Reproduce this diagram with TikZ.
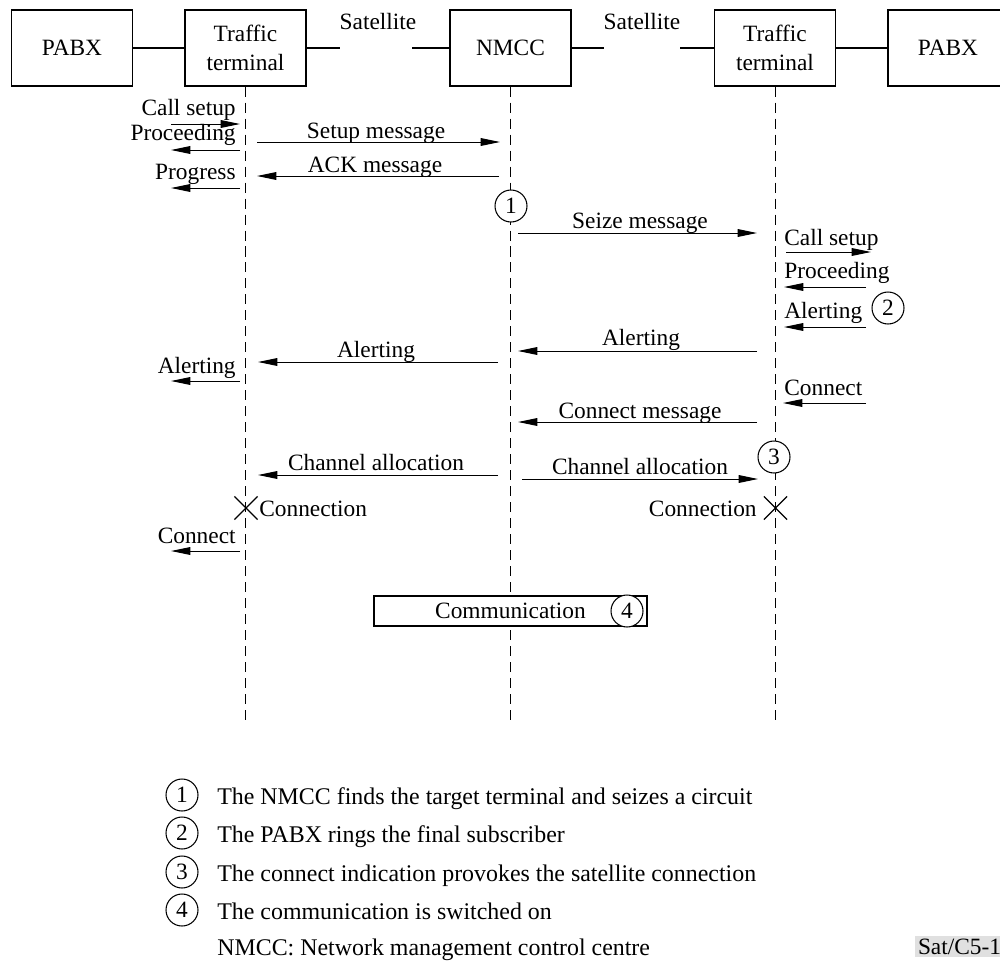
\documentclass[tikz,border=0pt]{standalone}
\usepackage{fontspec}
\setmainfont{Liberation Serif}
\usetikzlibrary{arrows.meta,shapes.misc}
\begin{document}
\begin{tikzpicture}[x=0.02cm,y=-0.02cm,
  every node/.style={font=\fontsize{13.3}{16.5}\selectfont},
  box/.style={draw,line width=0.7pt,minimum width=2.42cm,minimum height=1.52cm,align=center,inner sep=0pt},
  link/.style={line width=0.7pt},
  life/.style={line width=0.7pt,dash pattern=on 5.7pt off 3.4pt},
  msg/.style={line width=0.55pt,-{Triangle[length=11pt,width=4.4pt]}},
  lbl/.style={inner sep=0pt,anchor=base},
  lblL/.style={inner sep=0pt,anchor=base east},
  lblR/.style={inner sep=0pt,anchor=base west},
  legt/.style={inner sep=0pt,anchor=base west,font=\fontsize{13.6}{16.5}\selectfont},
  numc/.style={draw,circle,fill=white,line width=0.6pt,minimum size=0.64cm,inner sep=0pt},
  legc/.style={draw,circle,fill=white,line width=0.6pt,minimum size=0.64cm,inner sep=0pt},
  xmark/.style={draw,cross out,line width=0.7pt,minimum size=0.44cm,inner sep=0pt}]
\useasboundingbox (0,0) rectangle (1000,960);
\clip (0,0) rectangle (1000,960);

% top boxes
\node[box] (pabxL) at (72,48) {PABX};
\node[box] (ttL) at (245.5,48) {Traffic\\terminal};
\node[box] (nmcc) at (510.5,48) {NMCC};
\node[box] (ttR) at (775,48) {Traffic\\terminal};
\node[box,minimum width=2.4cm] (pabxR) at (948,48) {PABX};

\coordinate (s1a) at (340,48); \coordinate (s1b) at (412,48);
\coordinate (s2a) at (604,48); \coordinate (s2b) at (680,48);
\draw[link] (pabxL) -- (ttL);
\draw[link] (ttL) -- (s1a);
\draw[link] (s1b) -- (nmcc);
\draw[link] (nmcc) -- (s2a);
\draw[link] (s2b) -- (ttR);
\draw[link] (ttR) -- (pabxR);
\node[lbl] (sat1) at (378,30) {Satellite};
\node[lbl] (sat2) at (642,30) {Satellite};

% lifelines
\coordinate (eL) at (245.5,722);
\coordinate (eN) at (510.5,722);
\coordinate (eR) at (775.5,722);
\draw[life] (ttL.south) -- (eL);
\draw[life] (nmcc.south) -- (eN);
\draw[life] (ttR.south -| eR) -- (eR);

% left PABX side
\coordinate (a1a) at (171,124); \coordinate (a1b) at (240,124);
\draw[msg] (a1a) -- (a1b);
\node[lblL] (t1) at (236,115) {Call setup};
\coordinate (a2a) at (240,150); \coordinate (a2b) at (171,150);
\draw[msg] (a2a) -- (a2b);
\node[lblL] (t2) at (236,140) {Proceeding};
\coordinate (a3a) at (240,188); \coordinate (a3b) at (171,188);
\draw[msg] (a3a) -- (a3b);
\node[lblL] (t3) at (236,179) {Progress};

% setup / ack
\coordinate (m1a) at (257,142); \coordinate (m1b) at (500,142);
\draw[msg] (m1a) -- (m1b);
\node[lbl] (tm1) at (376,138) {Setup message};
\coordinate (m2a) at (499,176); \coordinate (m2b) at (257,176);
\draw[msg] (m2a) -- (m2b);
\node[lbl] (tm2) at (375,172) {ACK message};

\node[numc] (c1) at (511,206) {1};

% seize
\coordinate (m3a) at (518,233); \coordinate (m3b) at (757,233);
\draw[msg] (m3a) -- (m3b);
\node[lbl] (tm3) at (640,228) {Seize message};

% right PABX side
\coordinate (r1a) at (786,252); \coordinate (r1b) at (871,252);
\draw[msg] (r1a) -- (r1b);
\node[lblR] (tr1) at (784,245) {Call setup};
\coordinate (r2a) at (866,287); \coordinate (r2b) at (784,287);
\draw[msg] (r2a) -- (r2b);
\node[lblR] (tr2) at (784,278) {Proceeding};
\coordinate (r3a) at (866,327); \coordinate (r3b) at (784,327);
\draw[msg] (r3a) -- (r3b);
\node[lblR] (tr3) at (784,318) {Alerting};
\node[numc] (c2) at (888,308) {2};

% alerting
\coordinate (m4a) at (757,351); \coordinate (m4b) at (518,351);
\draw[msg] (m4a) -- (m4b);
\node[lbl] (tm4) at (641,345) {Alerting};
\coordinate (m5a) at (498,362); \coordinate (m5b) at (258,362);
\draw[msg] (m5a) -- (m5b);
\node[lbl] (tm5) at (376,357) {Alerting};
\coordinate (a4a) at (240,381); \coordinate (a4b) at (171,381);
\draw[msg] (a4a) -- (a4b);
\node[lblL] (t4) at (236,373) {Alerting};

% connect
\coordinate (r4a) at (866,403); \coordinate (r4b) at (783,403);
\draw[msg] (r4a) -- (r4b);
\node[lblR] (tr4) at (784,395) {Connect};
\coordinate (m6a) at (757,422); \coordinate (m6b) at (518,422);
\draw[msg] (m6a) -- (m6b);
\node[lbl] (tm6) at (640,418) {Connect message};

\node[numc] (c3) at (774,457) {3};

% channel allocation
\coordinate (m7a) at (522,479); \coordinate (m7b) at (758,479);
\draw[msg] (m7a) -- (m7b);
\node[lbl] (tm7) at (640,474) {Channel allocation};
\coordinate (m8a) at (498,475); \coordinate (m8b) at (258,475);
\draw[msg] (m8a) -- (m8b);
\node[lbl] (tm8) at (376,470) {Channel allocation};

% connections
\node[xmark] (xL) at (246,508) {};
\node[lblR] (cxL) at (259,516) {Connection};
\node[xmark] (xR) at (775.5,508) {};
\node[lblL] (cxR) at (757,516) {Connection};

\coordinate (a5a) at (240,551); \coordinate (a5b) at (171,551);
\draw[msg] (a5a) -- (a5b);
\node[lblL] (t5) at (236,543) {Connect};

% communication
\node[draw,fill=white,line width=0.7pt,minimum width=5.46cm,minimum height=0.6cm,inner sep=0pt] (comm) at (510.5,611) {Communication};
\node[numc] (c4) at (627,611) {4};

% legend
\node[legc] (l1) at (182,795) {1};
\node[legt] (lt1) at (217,804) {The NMCC finds the target terminal and seizes a circuit};
\node[legc] (l2) at (182,833) {2};
\node[legt] (lt2) at (217,842) {The PABX rings the final subscriber};
\node[legc] (l3) at (182,872) {3};
\node[legt] (lt3) at (217,881) {The connect indication provokes the satellite connection};
\node[legc] (l4) at (182,910) {4};
\node[legt] (lt4) at (217,919) {The communication is switched on};
\node[legt] (lt5) at (217,955) {NMCC: Network management control centre};

\node[fill=black!12,inner sep=1.5pt,anchor=base west] (ref) at (915,954) {Sat/C5-1};
\end{tikzpicture}
\end{document}
